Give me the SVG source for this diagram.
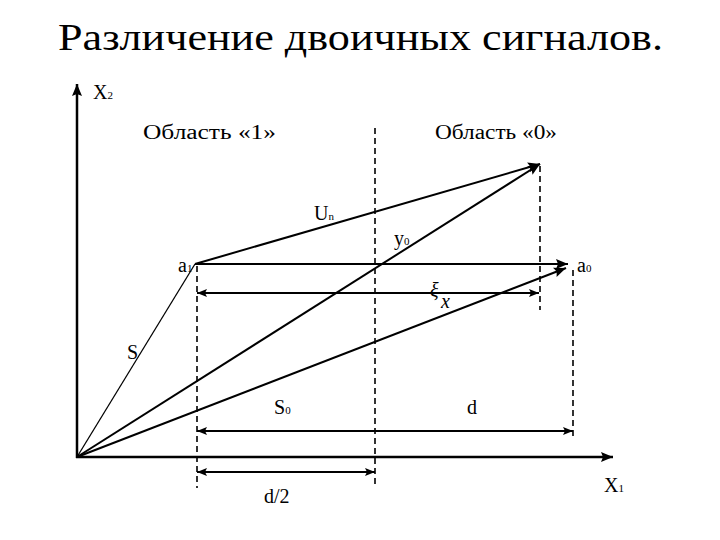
<svg xmlns="http://www.w3.org/2000/svg" width="720" height="540" viewBox="0 0 720 540">
<style>
text{font-family:'Times New Roman','Liberation Serif','DejaVu Serif',serif;fill:#000}
.ln{stroke:#000;stroke-width:2;fill:none}
.ax{stroke:#000;stroke-width:2.5;fill:none}
.dash{stroke:#000;stroke-width:1.6;stroke-dasharray:6,4;fill:none}
</style>
<defs>
<marker id="ah" viewBox="0 0 10 8" refX="10" refY="4" markerWidth="10" markerHeight="8" markerUnits="userSpaceOnUse" orient="auto-start-reverse">
<path d="M0,0 L10,4 L0,8 L2,4 Z" fill="#000"/>
</marker>
<marker id="ahb" viewBox="0 0 12 10" refX="12" refY="5" markerWidth="12" markerHeight="10" markerUnits="userSpaceOnUse" orient="auto-start-reverse">
<path d="M0,0 L12,5 L0,10 L2,5 Z" fill="#000"/>
</marker>
</defs>
<rect width="720" height="540" fill="#fff"/>
<text x="58" y="50" font-size="38" textLength="605" lengthAdjust="spacingAndGlyphs">Различение двоичных сигналов.</text>

<g id="axes">
<line class="ax" x1="77" y1="458" x2="77" y2="84" marker-end="url(#ahb)"/>
<line class="ax" x1="76" y1="457" x2="613" y2="457" marker-end="url(#ahb)"/>
</g>

<g id="dashed">
<line class="dash" x1="197" y1="266" x2="197" y2="488"/>
<line class="dash" x1="375" y1="128" x2="375" y2="488"/>
<line class="dash" x1="540" y1="166" x2="540" y2="310"/>
<line class="dash" x1="573" y1="270" x2="573" y2="438"/>
</g>

<g id="connectors">
<line x1="77" y1="457" x2="195" y2="264" stroke="#000" stroke-width="1.3"/>
<line class="ln" x1="195" y1="264" x2="568" y2="264" marker-end="url(#ahb)"/>
<line class="ln" x1="195" y1="264" x2="540" y2="164" marker-end="url(#ahb)"/>
<line class="ln" x1="77" y1="457" x2="540" y2="164" marker-end="url(#ahb)"/>
<line class="ln" x1="77" y1="457" x2="566" y2="268" marker-end="url(#ahb)"/>
<line class="ln" x1="197" y1="293" x2="539" y2="293" marker-start="url(#ah)" marker-end="url(#ah)"/>
<line class="ln" x1="197" y1="431" x2="573" y2="431" marker-start="url(#ah)" marker-end="url(#ah)"/>
<line class="ln" x1="197" y1="472" x2="375" y2="472" marker-start="url(#ah)" marker-end="url(#ah)"/>
</g>

<g id="labels">
<text x="93" y="99" font-size="20">X<tspan font-size="11">2</tspan></text>
<text x="143" y="139" font-size="20" textLength="133" lengthAdjust="spacingAndGlyphs">Область «1»</text>
<text x="435" y="139" font-size="20" textLength="122" lengthAdjust="spacingAndGlyphs">Область «0»</text>
<text x="314" y="220" font-size="20">U<tspan font-size="11">n</tspan></text>
<text x="394" y="245" font-size="20">y<tspan font-size="11">0</tspan></text>
<text x="178" y="272" font-size="20">a<tspan font-size="11">1</tspan></text>
<text x="577" y="272" font-size="20">a<tspan font-size="11">0</tspan></text>
<text x="430" y="297" font-size="20" font-style="italic">ξ</text>
<text x="441" y="308" font-size="20" font-style="italic">x</text>
<text x="127" y="359" font-size="20">S</text>
<text x="274" y="414" font-size="20">S<tspan font-size="11">0</tspan></text>
<text x="467" y="414" font-size="20">d</text>
<text x="264" y="503" font-size="20">d/2</text>
<text x="604" y="492" font-size="20">X<tspan font-size="11">1</tspan></text>
</g>
</svg>
